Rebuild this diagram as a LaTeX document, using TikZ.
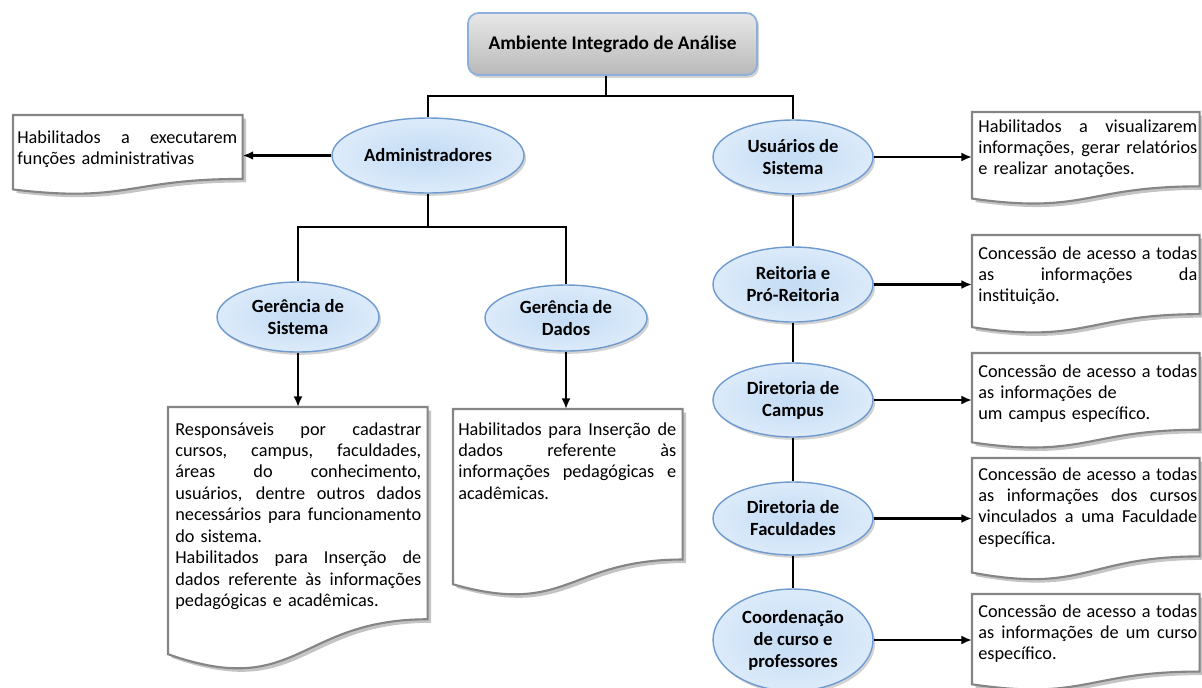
\documentclass[tikz,border=0pt]{standalone}
\usepackage{fontspec}
\setmainfont{Carlito}
\usetikzlibrary{shapes.geometric,arrows.meta,calc,shadows,backgrounds}

\definecolor{ellin}{HTML}{C3DBF4}
\definecolor{ellout}{HTML}{DCEBFA}
\definecolor{ellline}{HTML}{6F9AD0}
\definecolor{topline}{HTML}{8DB0DA}
\definecolor{docline}{HTML}{858585}
\definecolor{docshadow}{HTML}{C4C4C4}

% one justified line: interword spaces stretched to the width \jlw
\newlength\jlw
\newcommand\jl[1]{\leavevmode\hbox to \jlw{\spaceskip=\fontdimen2\font plus 1fil\relax #1}}

\begin{document}
\begin{tikzpicture}[x=0.02cm,y=-0.02cm,
  conn/.style={line width=1.4pt, black},
  arr/.style={conn, -{Latex[length=6pt,width=5pt]}},
  oval/.style={ellipse, draw=ellline, line width=0.8pt, inner color=ellin,
    outer color=ellout, inner sep=0pt, align=center,
    font=\fontsize{10.6}{12.5}\selectfont\bfseries,
    drop shadow={shadow xshift=1.2pt, shadow yshift=-1.6pt, opacity=0.35}},
  topbox/.style={rectangle, rounded corners=6pt, draw=topline, line width=1pt,
    top color=gray!18, bottom color=gray!55, inner sep=0pt,
    font=\fontsize{11}{13}\selectfont\bfseries,
    drop shadow={shadow xshift=1.2pt, shadow yshift=-1.6pt, opacity=0.35}},
  frame/.style={rectangle, inner sep=0pt, anchor=north west},
  doctext/.style={inner sep=0pt, anchor=north west, align=left,
    text width=#1, font=\fontsize{10.4}{12.2}\selectfont},
]
\useasboundingbox (0,0) rectangle (1202,687);

% root
\node[topbox, minimum width=5.78cm, minimum height=1.24cm] (top) at (612.5,44)
  {Ambiente Integrado de Análise};

% administrators branch
\node[oval, minimum width=3.84cm, minimum height=1.5cm] (admin) at (428,155.5) {Administradores};
\node[oval, minimum width=3.24cm, minimum height=1.4cm] (gs) at (298,317) {Gerência de\\Sistema};
\node[oval, minimum width=3.24cm, minimum height=1.32cm] (gd) at (566,318) {Gerência de\\Dados};

% users branch
\node[oval, minimum width=3.2cm, minimum height=1.48cm] (usr) at (793,157) {Usuários de\\Sistema};
\node[oval, minimum width=3.2cm, minimum height=1.5cm] (reit) at (793,284.5) {Reitoria e\\Pró-Reitoria};
\node[oval, minimum width=3.2cm, minimum height=1.48cm] (camp) at (793,400) {Diretoria de\\Campus};
\node[oval, minimum width=3.2cm, minimum height=1.46cm] (fac) at (793,518.5) {Diretoria de\\Faculdades};
\node[oval, minimum width=3.2cm, minimum height=2.04cm] (coord) at (793,640) {Coordenação\\de curso e\\professores};

% description frames
\node[frame, minimum width=4.58cm, minimum height=1.58cm] (l1) at (13,115) {};
\node[frame, minimum width=4.54cm, minimum height=1.84cm] (r1) at (972,112) {};
\node[frame, minimum width=4.54cm, minimum height=1.96cm] (r2) at (972,235) {};
\node[frame, minimum width=4.54cm, minimum height=1.9cm] (r3) at (972,353) {};
\node[frame, minimum width=4.54cm, minimum height=2.44cm] (r4) at (972,458) {};
\node[frame, minimum width=4.54cm, minimum height=1.92cm] (r5) at (972,594) {};
\node[frame, minimum width=5.18cm, minimum height=5.28cm] (gsb) at (168,407) {};
\node[frame, minimum width=4.58cm, minimum height=3.74cm] (gdb) at (453,409) {};

% description texts
\setlength\jlw{4.4cm}
\node[doctext=4.4cm] (l1t) at ($(l1.north west)+(4,15)$)
  {\jl{Habilitados a executarem}\\funções administrativas};
\setlength\jlw{4.38cm}
\node[doctext=4.38cm] (r1t) at ($(r1.north west)+(6,7)$)
  {\jl{Habilitados a visualizarem}\\\jl{informações, gerar relatórios}\\e realizar anotações.};
\node[doctext=4.38cm] (r2t) at ($(r2.north west)+(6,11)$)
  {\jl{Concessão de acesso a todas}\\\jl{as informações da}\\instituição.};
\node[doctext=4.38cm] (r3t) at ($(r3.north west)+(6,11)$)
  {\jl{Concessão de acesso a todas}\\as informações de\\um campus específico.};
\node[doctext=4.38cm] (r4t) at ($(r4.north west)+(6,9)$)
  {\jl{Concessão de acesso a todas}\\\jl{as informações dos cursos}\\\jl{vinculados a uma Faculdade}\\específica.};
\node[doctext=4.38cm] (r5t) at ($(r5.north west)+(6,10)$)
  {\jl{Concessão de acesso a todas}\\\jl{as informações de um curso}\\específico.};
\setlength\jlw{4.92cm}
\node[doctext=4.92cm] (gsbt) at ($(gsb.north west)+(7,15)$)
  {\jl{Responsáveis por cadastrar}\\\jl{cursos, campus, faculdades,}\\\jl{áreas do conhecimento,}\\
   \jl{usuários, dentre outros dados}\\\jl{necessários para funcionamento}\\do sistema.\\
   \jl{Habilitados para Inserção de}\\\jl{dados referente às informações}\\pedagógicas e acadêmicas.};
\setlength\jlw{4.36cm}
\node[doctext=4.36cm] (gdbt) at ($(gdb.north west)+(5,13)$)
  {\jl{Habilitados para Inserção de}\\\jl{dados referente às}\\\jl{informações pedagógicas e}\\acadêmicas.};

% document outlines with a wavy lower edge
\begin{scope}[on background layer]
\foreach \b in {l1,r1,r2,r3,r4,r5,gsb,gdb}{
  \fill[docshadow, transform canvas={xshift=2pt,yshift=-2pt}]
    (\b.north west) -- (\b.north east) -- ($(\b.north east)!0.802!(\b.south east)$)
    .. controls ($(\b.north)!0.802!(\b.south)$) and ($(\b.north)!1.1075!(\b.south)$)
    .. ($(\b.north west)!0.934!(\b.south west)$) -- cycle;
  \filldraw[fill=white, draw=docline, line width=1.2pt]
    (\b.north west) -- (\b.north east) -- ($(\b.north east)!0.802!(\b.south east)$)
    .. controls ($(\b.north)!0.802!(\b.south)$) and ($(\b.north)!1.1075!(\b.south)$)
    .. ($(\b.north west)!0.934!(\b.south west)$) -- cycle;
}
\end{scope}

% tree connectors
\coordinate (hub) at (606,96);
\coordinate (hub2) at (428,227);
\draw[conn] (top.south -| hub) -- (hub);
\draw[conn] (admin.north) |- (hub) -| (usr.north);
\draw[conn] (admin.south) -- (hub2);
\draw[conn] (gs.north) |- (hub2) -| (gd.north);
\draw[conn] (usr.south) -- (reit.north);
\draw[conn] (reit.south) -- (camp.north);
\draw[conn] (camp.south) -- (fac.north);
\draw[conn] (fac.south) -- (coord.north);

% arrows to the descriptions
\draw[arr] (admin.west) -- (admin.west -| l1.east);
\draw[arr] (gs.south) -- (gs.south |- gsb.north);
\draw[arr] (gd.south) -- (gd.south |- gdb.north);
\draw[arr] (usr.east) -- (usr.east -| r1.west);
\draw[arr] (reit.east) -- (reit.east -| r2.west);
\draw[arr] (camp.east) -- (camp.east -| r3.west);
\draw[arr] (fac.east) -- (fac.east -| r4.west);
\draw[arr] (coord.east) -- (coord.east -| r5.west);
\end{tikzpicture}
\end{document}
